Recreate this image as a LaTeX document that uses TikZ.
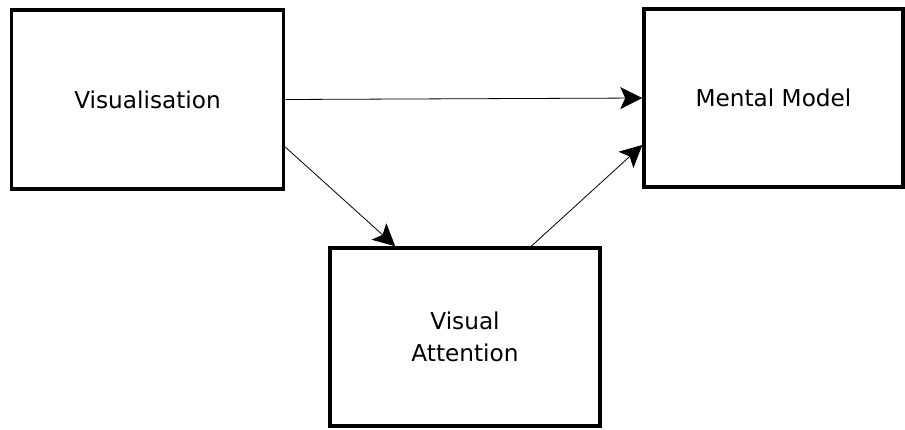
\documentclass[tikz,border=0pt]{standalone}
\usepackage{fontspec}
\setmainfont{DejaVu Sans}
\usetikzlibrary{arrows.meta,calc}
\begin{document}
\begin{tikzpicture}[x=1pt,y=-1pt,
  box/.style={draw=black,line width=3.5pt,fill=white,inner sep=0pt,align=center,
    font=\fontsize{23.2}{32}\selectfont},
  conn/.style={draw=black,line width=0.8pt,-{Stealth[length=22pt,width=22pt,inset=5pt]}}]
\useasboundingbox (0,0) rectangle (905,429);
\node[box,minimum width=272pt,minimum height=179pt] (vis) at (147.5,99.5) {Visualisation};
\node[box,minimum width=259pt,minimum height=178pt] (mm) at (773.5,98) {Mental Model};
\node[box,minimum width=270pt,minimum height=178pt] (va) at (465,337) {Visual\\Attention};
\draw[conn] (vis.east) -- (mm.west);
\draw[conn] ($(vis.east)+(0,47.5)$) -- ($(va.north west)+(67,0)$);
\draw[conn] ($(va.north west)+(203,0)$) -- ($(mm.west)+(0,47)$);
\end{tikzpicture}
\end{document}
